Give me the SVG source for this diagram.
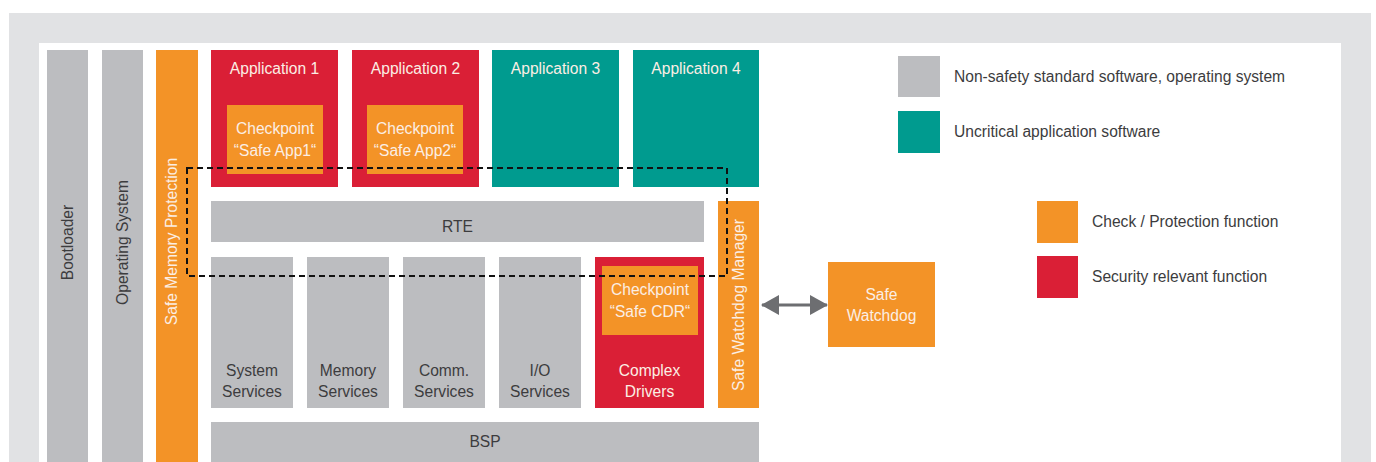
<svg xmlns="http://www.w3.org/2000/svg" width="1376" height="462" viewBox="0 0 1376 462">
<defs>
<style>
.g{fill:#bcbdc0}
.r{fill:#da1f36}
.o{fill:#f39327}
.t{fill:#009b8f}
text{font-family:"Liberation Sans","Noto Sans",sans-serif;font-size:15.6px;text-anchor:middle}
.lt{fill:#fbeee4}
.dk{fill:#3c3c3e}
.lg{text-anchor:start;fill:#3c3c3e}
</style>
<marker id="ah" viewBox="0 0 18 20" refX="17" refY="10" markerWidth="18" markerHeight="20" markerUnits="userSpaceOnUse" orient="auto-start-reverse">
<path d="M0,0 L18,10 L0,20 Z" fill="#6d6e71"/>
</marker>
</defs>
<rect x="0" y="0" width="1376" height="462" fill="#ffffff"/>
<path d="M9,13 H1371 V462 H1341 V43 H39 V462 H9 Z" fill="#e1e2e4"/>
<rect x="39" y="43" width="1302" height="419" fill="#ffffff"/>

<g id="bootloader"><rect class="g" x="47" y="50" width="41" height="412"/><text class="dk" transform="translate(73,242.5) rotate(-90)">Bootloader</text></g>
<g id="os"><rect class="g" x="102" y="50" width="41" height="412"/><text class="dk" transform="translate(128,242.5) rotate(-90)">Operating System</text></g>
<g id="smp"><rect class="o" x="156" y="50" width="42" height="412"/><text class="lt" transform="translate(176.5,241.5) rotate(-90)">Safe Memory Protection</text></g>

<g id="app1"><rect class="r" x="211" y="50" width="127" height="137"/><text class="lt" x="274.5" y="74">Application 1</text></g>
<g id="cp1"><rect class="o" x="227" y="105" width="96" height="69"/><text class="lt" x="275" y="134">Checkpoint</text><text class="lt" x="275" y="156">“Safe App1“</text></g>
<g id="app2"><rect class="r" x="352" y="50" width="127" height="137"/><text class="lt" x="415.5" y="74">Application 2</text></g>
<g id="cp2"><rect class="o" x="367" y="105" width="96" height="69"/><text class="lt" x="415" y="134">Checkpoint</text><text class="lt" x="415" y="156">“Safe App2“</text></g>
<g id="app3"><rect class="t" x="492" y="50" width="127" height="137"/><text class="lt" x="555.5" y="74">Application 3</text></g>
<g id="app4"><rect class="t" x="633" y="50" width="126" height="137"/><text class="lt" x="696" y="74">Application 4</text></g>

<g id="rte"><rect class="g" x="211" y="201" width="493" height="41"/><text class="dk" x="457.5" y="232">RTE</text></g>

<g id="sys"><rect class="g" x="211" y="257" width="82" height="151"/><text class="dk" x="252" y="376">System</text><text class="dk" x="252" y="397">Services</text></g>
<g id="mem"><rect class="g" x="307" y="257" width="82" height="151"/><text class="dk" x="348" y="376">Memory</text><text class="dk" x="348" y="397">Services</text></g>
<g id="comm"><rect class="g" x="403" y="257" width="82" height="151"/><text class="dk" x="444" y="376">Comm.</text><text class="dk" x="444" y="397">Services</text></g>
<g id="io"><rect class="g" x="499" y="257" width="82" height="151"/><text class="dk" x="540" y="376">I/O</text><text class="dk" x="540" y="397">Services</text></g>
<g id="cdrv"><rect class="r" x="595" y="257" width="109" height="151"/><text class="lt" x="649.5" y="376">Complex</text><text class="lt" x="649.5" y="397">Drivers</text></g>
<g id="cpcdr"><rect class="o" x="602" y="266" width="96" height="69"/><text class="lt" x="650" y="295">Checkpoint</text><text class="lt" x="650" y="317">“Safe CDR“</text></g>

<g id="swm"><rect class="o" x="718" y="201" width="41" height="207"/><text class="lt" transform="translate(744,305) rotate(-90)">Safe Watchdog Manager</text></g>
<g id="bsp"><rect class="g" x="211" y="422" width="548" height="40"/><text class="dk" x="485" y="447">BSP</text></g>

<g id="swd"><rect class="o" x="828" y="262" width="107" height="85"/><text class="lt" x="881.5" y="300">Safe</text><text class="lt" x="881.5" y="321">Watchdog</text></g>

<g id="connectors">
<path d="M187,168 H727 V276 H187 Z" fill="none" stroke="#111" stroke-width="2" stroke-dasharray="6,4"/>
<line x1="762" y1="305" x2="827" y2="305" stroke="#6d6e71" stroke-width="3" marker-start="url(#ah)" marker-end="url(#ah)"/>
</g>

<g id="legend">
<rect class="g" x="898" y="56" width="42" height="41"/><text class="lg" x="954" y="82">Non-safety standard software, operating system</text>
<rect class="t" x="898" y="111" width="42" height="42"/><text class="lg" x="954" y="137">Uncritical application software</text>
<rect class="o" x="1037" y="201" width="41" height="42"/><text class="lg" x="1092" y="227">Check / Protection function</text>
<rect class="r" x="1037" y="256" width="41" height="42"/><text class="lg" x="1092" y="282">Security relevant function</text>
</g>
</svg>
